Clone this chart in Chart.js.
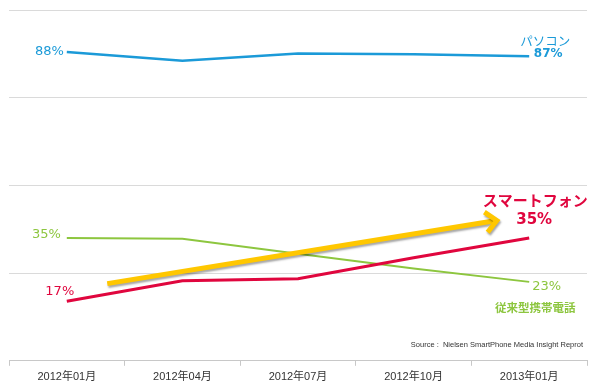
<!DOCTYPE html>
<html>
<head>
<meta charset="utf-8">
<script src="https://cdn.jsdelivr.net/npm/chart.js@4"></script>
<style>
  body { margin: 0; background: #fff; }
  #wrap { width: 599px; height: 391px; position: relative; }
</style>
</head>
<body>
<div id="wrap"><canvas id="shareChart"></canvas></div>
<script>
const months = ["2012年01月", "2012年04月", "2012年07月", "2012年10月", "2013年01月"];
const pcShare = [88, 85.5, 87.6, 87.4, 86.8];
const smartphoneShare = [17, 22.8, 23.4, 29.4, 35];
const featurePhoneShare = [35, 34.8, 30.5, 26.3, 22.5];
// trend arrow, in data units (category index, percent)
const arrowFrom = [0.35, 22];
const arrowTo = [3.72, 40];
const sourceNote = "Source :  Nielsen SmartPhone Media Insight Reprot";

const BLUE = "#1b9ad8";
const RED = "#e0063e";
const GREEN = "#8dc63f";
const YELLOW = "#ffc700";
const JP = '"DejaVu Sans", "Noto Sans CJK JP", sans-serif';

/* text labels hung on data points */
const pointLabels = [
    { ds: 0, i: 0, text: "88%", color: BLUE, font: "13px " + JP, dx: -3, dy: 0, align: "right" },
    { ds: 0, i: 4, text: "パソコン", color: BLUE, font: "12.5px " + JP, dx: 16, dy: -14, align: "center" },
    { ds: 0, i: 4, text: "87%", color: BLUE, font: "bold 12px " + JP, dx: 19, dy: -2, align: "center" },
    { ds: 2, i: 0, text: "35%", color: GREEN, font: "13px " + JP, dx: -6, dy: -3, align: "right" },
    { ds: 1, i: 0, text: "17%", color: RED, font: "13px " + JP, dx: -7, dy: -10, align: "center" },
    { ds: 2, i: 4, text: "23%", color: GREEN, font: "13px " + JP, dx: 3, dy: 5, align: "left" },
    { ds: 2, i: 4, text: "従来型携帯電話", color: GREEN, font: "bold 11.5px " + JP, dx: 6, dy: 27, align: "center" },
    { ds: 1, i: 4, text: "スマートフォン", color: RED, font: "bold 15px " + JP, dx: 6, dy: -36, align: "center" },
    { ds: 1, i: 4, text: "35%", color: RED, font: "bold 15px " + JP, dx: 5, dy: -18, align: "center" }
];

const annotate = {
    id: "annotate",
    afterDatasetsDraw(chart) {
        const ctx = chart.ctx;
        const xs = chart.scales.x, ys = chart.scales.y;

        // yellow trend arrow with soft shadow
        const x1 = xs.getPixelForValue(arrowFrom[0]), y1 = ys.getPixelForValue(arrowFrom[1]);
        const x2 = xs.getPixelForValue(arrowTo[0]), y2 = ys.getPixelForValue(arrowTo[1]);
        const ang = Math.atan2(y2 - y1, x2 - x1);
        const head = 15;
        ctx.save();
        ctx.shadowColor = "rgba(0,0,0,0.35)";
        ctx.shadowBlur = 2;
        ctx.shadowOffsetX = 1;
        ctx.shadowOffsetY = 2;
        ctx.strokeStyle = YELLOW;
        ctx.lineWidth = 5;
        ctx.lineCap = "butt";
        ctx.lineJoin = "miter";
        ctx.beginPath();
        ctx.moveTo(x1, y1);
        ctx.lineTo(x2 - 2 * Math.cos(ang), y2 - 2 * Math.sin(ang));
        ctx.stroke();
        ctx.beginPath();
        ctx.moveTo(x2 - head * Math.cos(ang - 0.75), y2 - head * Math.sin(ang - 0.75));
        ctx.lineTo(x2, y2);
        ctx.lineTo(x2 - head * Math.cos(ang + 0.75), y2 - head * Math.sin(ang + 0.75));
        ctx.stroke();
        ctx.restore();

        // point labels
        ctx.save();
        ctx.textBaseline = "middle";
        pointLabels.forEach(l => {
            const pt = chart.getDatasetMeta(l.ds).data[l.i];
            ctx.font = l.font;
            ctx.fillStyle = l.color;
            ctx.textAlign = l.align;
            ctx.fillText(l.text, pt.x + l.dx, pt.y + l.dy);
        });

        // source note
        ctx.font = '7.5px "Liberation Sans", sans-serif';
        ctx.fillStyle = "#333";
        ctx.textAlign = "right";
        ctx.fillText(sourceNote, chart.chartArea.right - 4, chart.chartArea.bottom - 16);
        ctx.restore();
    }
};

let ctx = document.getElementById("shareChart").getContext("2d");
let chart = new Chart(ctx, {
    type: "line",
    data: {
        labels: months,
        datasets: [
            { label: "パソコン", data: pcShare, borderColor: BLUE, borderWidth: 2.5 },
            { label: "スマートフォン", data: smartphoneShare, borderColor: RED, borderWidth: 3 },
            { label: "従来型携帯電話", data: featurePhoneShare, borderColor: GREEN, borderWidth: 2 }
        ]
    },
    options: {
        responsive: true,
        maintainAspectRatio: false,
        animation: false,
        layout: { padding: { left: 9, right: 12, top: 10, bottom: 2 } },
        elements: {
            point: { radius: 0, hoverRadius: 0 },
            line: { tension: 0, fill: false }
        },
        plugins: {
            legend: { display: false },
            tooltip: { enabled: false }
        },
        scales: {
            x: {
                offset: true,
                grid: { offset: true, drawOnChartArea: false, drawTicks: true, tickLength: 5, color: "#c8c8c8" },
                border: { color: "#c8c8c8", width: 1 },
                ticks: {
                    color: "#333",
                    padding: 5,
                    font: { family: '"Liberation Sans", "Noto Sans CJK JP", sans-serif', size: 11 }
                }
            },
            y: {
                min: 0,
                max: 100,
                ticks: { display: false, stepSize: 25 },
                grid: { color: "#dadada", drawTicks: false, lineWidth: 1 },
                border: { display: false }
            }
        }
    },
    plugins: [annotate]
});
</script>
</body>
</html>
